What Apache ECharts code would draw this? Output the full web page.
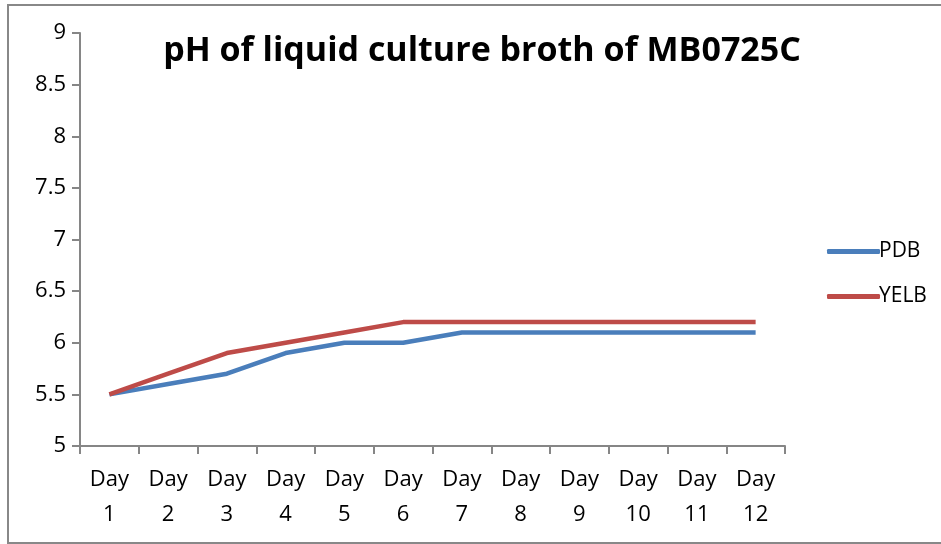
<!DOCTYPE html>
<html lang="en">
<head>
  <meta charset="UTF-8">
  <title>pH of liquid culture broth</title>
  <style>
    html, body { margin: 0; padding: 0; background: #fff; }
    #chart { width: 941px; height: 544px; }
  </style>
</head>
<body>
  <div id="chart"></div>
  <script src="https://cdn.jsdelivr.net/npm/echarts@6/dist/echarts.min.js"></script>
  <script>
    var days = ['Day 1', 'Day 2', 'Day 3', 'Day 4', 'Day 5', 'Day 6', 'Day 7', 'Day 8', 'Day 9', 'Day 10', 'Day 11', 'Day 12']
    var pdb = [5.5, 5.6, 5.7, 5.9, 6.0, 6.0, 6.1, 6.1, 6.1, 6.1, 6.1, 6.1]
    var yelb = [5.5, 5.7, 5.9, 6.0, 6.1, 6.2, 6.2, 6.2, 6.2, 6.2, 6.2, 6.2]

    var font = 'Open Sans'
    var axisGray = '#868686'

    var myChart = echarts.init(document.getElementById('chart'))
    var option = {
      animation: false,
      textStyle: { fontFamily: font },
      graphic: [{
        type: 'rect',
        shape: { x: 8, y: 5, width: 940, height: 538 },
        style: { fill: 'none', stroke: '#888', lineWidth: 2 }
      }],
      title: {
        text: 'pH of liquid culture broth of MB0725C',
        left: 477,
        textAlign: 'center',
        top: 29,
        textStyle: { fontSize: 34, fontWeight: 'bold', color: '#000', fontFamily: font }
      },
      legend: {
        orient: 'vertical',
        left: 822,
        top: 236,
        icon: 'roundRect',
        itemWidth: 53,
        itemHeight: 5,
        itemGap: 24,
        textStyle: { fontSize: 21, color: '#000', fontFamily: font, padding: [0, 0, 0, -6] },
        data: ['PDB', 'YELB']
      },
      grid: { left: 80, right: 156, top: 33, bottom: 98 },
      xAxis: {
        type: 'category',
        data: days,
        boundaryGap: true,
        axisLine: { show: true, lineStyle: { color: axisGray, width: 2 } },
        axisTick: { show: true, inside: false, length: 8, lineStyle: { color: axisGray, width: 2 } },
        axisLabel: {
          interval: 0,
          margin: 16,
          fontSize: 22,
          lineHeight: 35,
          color: '#000',
          fontFamily: font,
          formatter: function (v) { return v.replace(' ', '\n') }
        }
      },
      yAxis: {
        type: 'value',
        min: 5,
        max: 9,
        interval: 0.5,
        axisLine: { show: true, lineStyle: { color: axisGray, width: 2 } },
        axisTick: { show: true, inside: false, length: 8, lineStyle: { color: axisGray, width: 2 } },
        splitLine: { show: false },
        axisLabel: { fontSize: 22, color: '#000', margin: 14, fontFamily: font }
      },
      series: [
        {
          name: 'PDB',
          type: 'line',
          data: pdb,
          symbol: 'none',
          color: '#4A7EBB',
          lineStyle: { width: 4.5, color: '#4A7EBB' }
        },
        {
          name: 'YELB',
          type: 'line',
          data: yelb,
          symbol: 'none',
          color: '#BE4B48',
          lineStyle: { width: 4.5, color: '#BE4B48' }
        }
      ]
    }
    myChart.setOption(option)
  </script>
</body>
</html>
